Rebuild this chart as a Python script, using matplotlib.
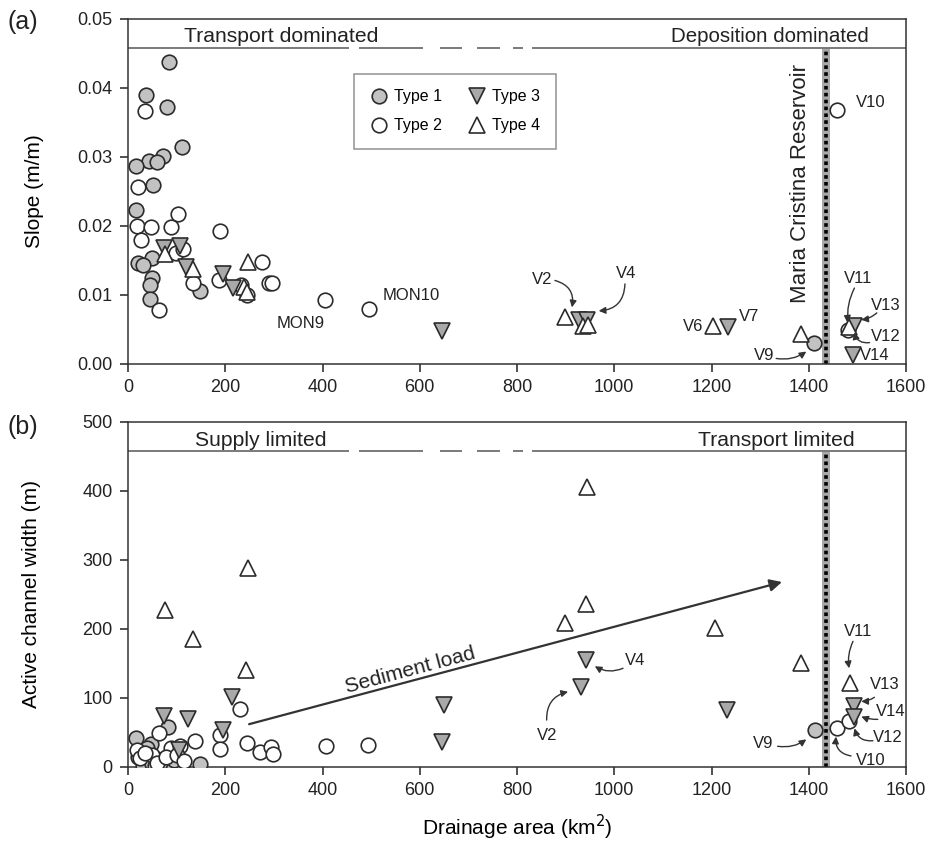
import matplotlib
matplotlib.use("Agg")
import matplotlib.pyplot as plt
from matplotlib.patches import FancyArrowPatch

plt.rcParams['font.family'] = ['Liberation Sans', 'DejaVu Sans']

# ---------------- data: panel (a) slope ----------------
t1_area_a = [84, 37, 79.5, 110, 72.6, 44, 60, 16, 51, 16, 49, 21, 30, 48.6, 45, 45, 148, 1410]
t1_slope_a = [0.0437, 0.0390, 0.0372, 0.0314, 0.0302, 0.0294, 0.0292, 0.0287, 0.0259, 0.0223,
              0.0154, 0.0146, 0.0143, 0.0124, 0.0114, 0.0094, 0.0106, 0.0030]
t2_area_a = [35, 21, 103, 18, 47, 88, 27, 189, 99, 114, 64, 134, 188, 275, 290, 297, 232, 244,
             405, 495, 1458, 1481]
t2_slope_a = [0.0366, 0.0256, 0.0218, 0.0200, 0.0198, 0.0198, 0.0180, 0.0193, 0.0161, 0.0166,
              0.0078, 0.0117, 0.0122, 0.0148, 0.0117, 0.0117, 0.0115, 0.0100, 0.0092, 0.0079,
              0.0368, 0.0049]
t3_area_a = [73, 107, 119, 195, 215, 645, 928, 944, 1234, 1494, 1491]
t3_slope_a = [0.0168, 0.0171, 0.0140, 0.0130, 0.0110, 0.0048, 0.0064, 0.0063, 0.0054, 0.0055, 0.0013]
t4_area_a = [76, 134, 247, 238, 244, 898, 935, 945, 1203, 1385, 1483]
t4_slope_a = [0.0159, 0.0137, 0.0148, 0.0112, 0.0104, 0.0068, 0.0055, 0.0057, 0.0055, 0.0043, 0.0054]

# ---------------- data: panel (b) active channel width ----------------
t1_area_b = [16, 47, 83, 73, 148, 110, 83, 37, 30, 50, 60, 21, 44, 56, 40, 65, 95, 1412]
t1_width_b = [42, 34, 58, 10, 5, 3, 4, 8, 2, 4, 12, 15, 20, 2, 28, 6, 10, 53]
t2_area_b = [64, 189, 189, 138, 245, 271, 295, 299, 230, 18, 88, 107, 49, 25, 35, 60, 78, 100,
             115, 407, 493, 1458, 1483]
t2_width_b = [49, 46, 26, 37, 35, 22, 29, 19, 84, 24, 27, 30, 17, 13, 20, 6, 15, 18, 8, 30, 32, 57, 66]
t3_area_b = [74, 124, 196, 213, 105, 650, 646, 931, 941, 1232, 1494, 1494]
t3_width_b = [74, 69, 54, 101, 25, 90, 36, 116, 155, 83, 89, 73]
t4_area_b = [247, 76, 134, 243, 943, 941, 898, 1208, 1385, 1484]
t4_width_b = [288, 227, 185, 140, 405, 236, 209, 201, 151, 122]

x_ticks = [0, 200, 400, 600, 800, 1000, 1200, 1400, 1600]
slope_ticks = [0.00, 0.01, 0.02, 0.03, 0.04, 0.05]
width_ticks = [0, 100, 200, 300, 400, 500]
reservoir_area = 1436
# segments of the regime line (solid, dashes, solid)
regime_segments = [(0, 455), (475, 606), (641, 687), (717, 765), (791, 812), (830, 1600)]

EDGE = '#2b2b2b'
GREY1 = '#c2c2c2'
GREY3 = '#a9a9a9'
TXT = '#222222'
styles = {
    'Type 1': dict(marker='o', mfc=GREY1, ms=10.5),
    'Type 2': dict(marker='o', mfc='white', ms=10.5),
    'Type 3': dict(marker='v', mfc=GREY3, ms=11),
    'Type 4': dict(marker='^', mfc='white', ms=11),
}

fig = plt.figure(figsize=(9.47, 8.52), dpi=100)
axA = fig.add_axes([0.1352, 0.5728, 0.8215, 0.405])
axB = fig.add_axes([0.1352, 0.0998, 0.8215, 0.405])


def draw_series(ax, data):
    handles = []
    for name, (xs, ys) in data.items():
        st = styles[name]
        h, = ax.plot(xs, ys, linestyle='none', marker=st['marker'], markersize=st['ms'],
                     markerfacecolor=st['mfc'], markeredgecolor=EDGE, markeredgewidth=1.2,
                     label=name, zorder=3)
        handles.append(h)
    return handles


def style_axes(ax, ymax, yticks, fmt):
    ax.set_xlim(0, 1600)
    ax.set_ylim(0, ymax)
    ax.set_xticks(x_ticks)
    ax.set_yticks(yticks)
    ax.set_yticklabels([fmt(v) for v in yticks])
    ax.tick_params(direction='out', length=6, width=1.1, labelsize=13, colors=TXT,
                   top=False, right=False, pad=5)
    for s in ax.spines.values():
        s.set_color('#333333')
        s.set_linewidth(1.1)


def regime_line(ax, yval):
    for a, b in regime_segments:
        ax.plot([a, b], [yval, yval], color='#7a7a7a', lw=1.4, solid_capstyle='butt', zorder=2)


def reservoir(ax, ytop):
    ax.fill_betweenx([0, ytop], reservoir_area - 8, reservoir_area + 8, color='#a8a8a8',
                     lw=0, zorder=1)
    ax.plot([reservoir_area, reservoir_area], [0, ytop], color='black', lw=2.6,
            linestyle=(0, (1.0, 0.9)), zorder=2)


def note(ax, text, pos, ha='center', start=None, end=None, rad=0.0, fs=12):
    ax.text(pos[0], pos[1], text, ha=ha, va='center', fontsize=fs, color=TXT)
    if start is not None:
        arr = FancyArrowPatch(start, end, arrowstyle='-|>', mutation_scale=10,
                              connectionstyle=f'arc3,rad={rad}', color='#333333', lw=1.0,
                              shrinkA=0, shrinkB=0, zorder=4)
        ax.add_patch(arr)


# ---------------- panel (a) ----------------
reservoir(axA, 0.0458)
regime_line(axA, 0.0458)
hA = draw_series(axA, {'Type 1': (t1_area_a, t1_slope_a), 'Type 2': (t2_area_a, t2_slope_a),
                       'Type 3': (t3_area_a, t3_slope_a), 'Type 4': (t4_area_a, t4_slope_a)})
style_axes(axA, 0.05, slope_ticks, lambda v: f'{v:.2f}')
axA.set_ylabel('Slope (m/m)', fontsize=15, labelpad=24)
axA.text(316, 0.0475, 'Transport dominated', ha='center', va='center', fontsize=15.2, color=TXT)
axA.text(1320, 0.0475, 'Deposition dominated', ha='center', va='center', fontsize=14.8, color=TXT)
axA.text(1384, 0.0262, 'Maria Cristina Reservoir', rotation=90, ha='center', va='center',
         fontsize=16, color=TXT)
leg = axA.legend(handles=[hA[0], hA[1], hA[2], hA[3]], ncol=2, loc='upper left',
                 bbox_to_anchor=(0.2905, 0.8406), borderaxespad=0, frameon=True, fancybox=False,
                 fontsize=11.5, handletextpad=0.35, columnspacing=1.6, borderpad=0.95,
                 labelspacing=0.9, handlelength=1.2)
leg.get_frame().set_edgecolor('#777777')
leg.get_frame().set_linewidth(1.1)

note(axA, 'MON9', (305, 0.0058), ha='left')
note(axA, 'MON10', (524, 0.0099), ha='left')
note(axA, 'V2', (872, 0.0123), ha='right', start=(878, 0.0121), end=(913, 0.0082), rad=-0.45)
note(axA, 'V4', (1024, 0.0131), start=(1022, 0.0116), end=(968, 0.0077), rad=-0.45)
note(axA, 'V6', (1183, 0.0054), ha='right')
note(axA, 'V7', (1277, 0.0069))
note(axA, 'V9', (1329, 0.0013), ha='right', start=(1333, 0.0008), end=(1395, 0.0018), rad=0.2)
note(axA, 'V10', (1528, 0.0379))
note(axA, 'V11', (1501, 0.0124), start=(1494, 0.0110), end=(1481, 0.0060), rad=0.15)
note(axA, 'V13', (1559, 0.0085), start=(1540, 0.0074), end=(1508, 0.0064), rad=-0.15)
note(axA, 'V12', (1528, 0.0040), ha='left', start=(1525, 0.0031), end=(1494, 0.0046), rad=-0.45)
note(axA, 'V14', (1505, 0.0013), ha='left')

# ---------------- panel (b) ----------------
reservoir(axB, 458)
regime_line(axB, 458)
draw_series(axB, {'Type 1': (t1_area_b, t1_width_b), 'Type 2': (t2_area_b, t2_width_b),
                  'Type 3': (t3_area_b, t3_width_b), 'Type 4': (t4_area_b, t4_width_b)})
style_axes(axB, 500, width_ticks, lambda v: f'{v:d}')
axB.set_ylabel('Active channel width (m)', fontsize=15, labelpad=30)
axB.set_xlabel('Drainage area (km$^2$)', fontsize=15, labelpad=10)
axB.text(273, 473, 'Supply limited', ha='center', va='center', fontsize=15.2, color=TXT)
axB.text(1334, 473, 'Transport limited', ha='center', va='center', fontsize=15.2, color=TXT)

axB.annotate('', xy=(1345, 268), xytext=(249, 62),
             arrowprops=dict(arrowstyle='-|>', color='#333333', lw=1.6, mutation_scale=18,
                             shrinkA=0, shrinkB=0))
axB.text(580, 140, 'Sediment load', rotation=15, ha='center', va='center', fontsize=15,
         color=TXT, rotation_mode='anchor')

note(axB, 'V4', (1022, 155), ha='left', start=(1018, 143), end=(960, 146), rad=-0.25)
note(axB, 'V2', (863, 45), start=(861, 68), end=(905, 109), rad=-0.4)
note(axB, 'V9', (1328, 34), ha='right', start=(1336, 30), end=(1395, 40), rad=0.2)
note(axB, 'V10', (1498, 10), ha='left', start=(1487, 16), end=(1456, 44), rad=-0.45)
note(axB, 'V12', (1532, 42), ha='left', start=(1532, 38), end=(1494, 56), rad=-0.4)
note(axB, 'V14', (1539, 80), ha='left', start=(1542, 69), end=(1508, 73), rad=-0.1)
note(axB, 'V13', (1556, 120), start=(1535, 101), end=(1508, 95), rad=-0.15)
note(axB, 'V11', (1501, 196), start=(1491, 182), end=(1483, 143), rad=0.15)

fig.text(0.008, 0.974, '(a)', fontsize=18, ha='left', va='center', color=TXT)
fig.text(0.008, 0.499, '(b)', fontsize=18, ha='left', va='center', color=TXT)

fig.savefig('out.png', dpi=100)
